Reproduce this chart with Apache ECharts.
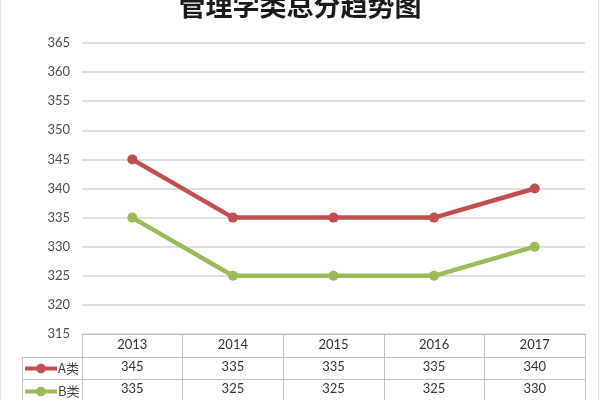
<!DOCTYPE html>
<html>
<head>
<meta charset="utf-8">
<script src="https://cdn.jsdelivr.net/npm/echarts@6/dist/echarts.min.js"></script>
<style>
html,body{margin:0;padding:0;background:#fff;}
#c{width:600px;height:400px;}
</style>
</head>
<body>
<div id="c"></div>
<script>
const titleText = '管理学类总分趋势图';
const categories = ['2013', '2014', '2015', '2016', '2017'];
const seriesNames = ['A类', 'B类'];
const seriesA = [345, 335, 335, 335, 340];
const seriesB = [335, 325, 325, 325, 330];
const yTicks = [315, 320, 325, 330, 335, 340, 345, 350, 355, 360, 365];

const chart = echarts.init(document.getElementById('c'));
const numFont = 'Lato, "Noto Sans", sans-serif';
const tableLine = '#bfbfbf';

chart.setOption({
  animation: false,
  backgroundColor: '#fff',
  title: {
    text: titleText,
    left: 'center',
    top: -8,
    padding: 0,
    textStyle: {fontFamily: '"Noto Sans CJK SC", sans-serif', fontSize: 27, fontWeight: 'bold', color: '#1a1a1a'}
  },
  legend: {
    orient: 'vertical',
    left: 23,
    top: 362,
    itemWidth: 32,
    itemHeight: 12,
    itemGap: 10,
    padding: 0,
    data: seriesNames,
    lineStyle: {width: 4},
    textStyle: {fontFamily: '"Noto Sans CJK SC", sans-serif', fontSize: 13, color: '#404040', padding: [0, 0, 0, -4]}
  },
  grid: {left: 82, right: 15, top: 43, bottom: 65},
  xAxis: {
    type: 'category',
    data: categories,
    boundaryGap: true,
    axisLine: {lineStyle: {color: tableLine, width: 1}},
    axisTick: {show: true, length: 66, alignWithLabel: false, lineStyle: {color: tableLine, width: 1}},
    axisLabel: {
      margin: 0,
      interval: 0,
      formatter: function (v, i) {
        return '{y|' + v + '}\n{v|' + seriesA[i] + '}\n{v|' + seriesB[i] + '}';
      },
      rich: {
        y: {fontFamily: numFont, fontSize: 13, color: '#333', lineHeight: 22, height: 22},
        v: {fontFamily: numFont, fontSize: 13, color: '#333', lineHeight: 22, height: 22}
      }
    }
  },
  yAxis: {
    type: 'value',
    min: yTicks[0],
    max: yTicks[yTicks.length - 1],
    interval: 5,
    axisLine: {show: false},
    axisTick: {show: false},
    axisLabel: {margin: 12, fontFamily: numFont, fontSize: 13, color: '#4d4d4d'},
    splitLine: {lineStyle: {color: '#d4d4d4', width: 1.5}}
  },
  graphic: [
    {type: 'line', shape: {x1: 22, y1: 357.5, x2: 585, y2: 357.5}, style: {stroke: tableLine, lineWidth: 1}},
    {type: 'line', shape: {x1: 22, y1: 379.5, x2: 585, y2: 379.5}, style: {stroke: tableLine, lineWidth: 1}},
    {type: 'line', shape: {x1: 22.5, y1: 357, x2: 22.5, y2: 400}, style: {stroke: tableLine, lineWidth: 1}},
    {type: 'line', shape: {x1: 598.5, y1: 0, x2: 598.5, y2: 400}, style: {stroke: '#d9d9d9', lineWidth: 1}},
    {type: 'line', shape: {x1: 0.5, y1: 0, x2: 0.5, y2: 400}, style: {stroke: '#e6e6e6', lineWidth: 1}}
  ],
  series: [
    {
      name: seriesNames[0], type: 'line', data: seriesA,
      symbol: 'circle', symbolSize: 10,
      lineStyle: {color: '#C0504D', width: 4.5},
      itemStyle: {color: '#C0504D'}
    },
    {
      name: seriesNames[1], type: 'line', data: seriesB,
      symbol: 'circle', symbolSize: 10,
      lineStyle: {color: '#9BBB59', width: 4.5},
      itemStyle: {color: '#9BBB59'}
    }
  ]
});
</script>
</body>
</html>
